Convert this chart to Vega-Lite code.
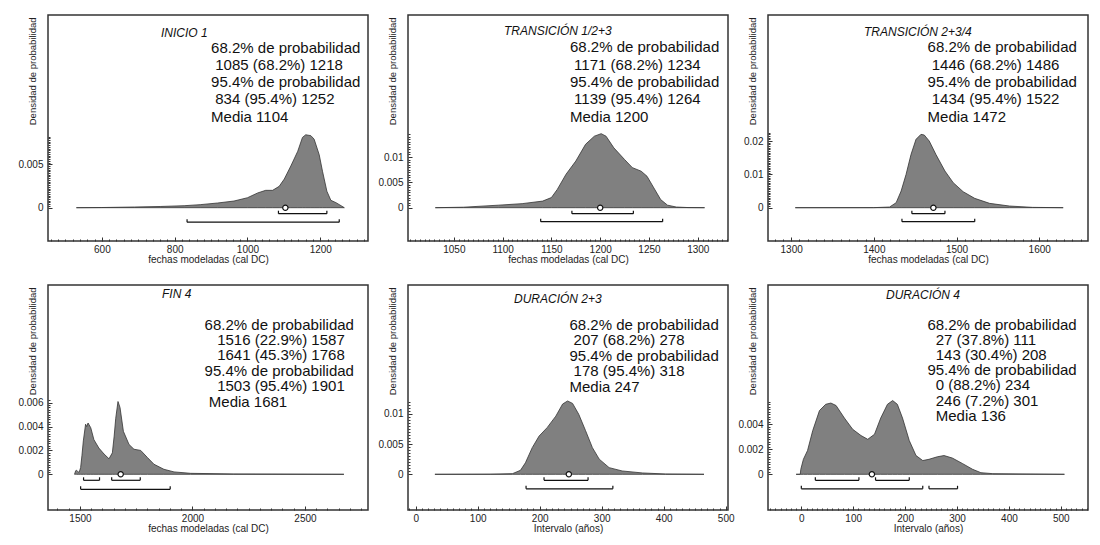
{
  "$schema": "https://vega.github.io/schema/vega-lite/v6.json",
  "padding": {"left": 17, "top": 9, "right": 5, "bottom": 5},
  "background": "white",
  "config": {
    "view": {"stroke": "#333", "strokeWidth": 1.5},
    "font": "Liberation Sans",
    "axis": {"grid": false, "domain": false, "labelFont": "Liberation Sans", "labelFontSize": 10, "labelColor": "#222", "titleFont": "Liberation Sans", "titleFontWeight": "normal", "titleColor": "#222", "tickColor": "#333", "tickWidth": 1, "labelOverlap": false, "labelFlush": false},
    "axisX": {"titleFontSize": 10, "labelPadding": 7, "titleY": 18.5, "titleBaseline": "middle", "format": "d"},
    "axisY": {"titleFontSize": 9.5, "labelPadding": 9, "titleX": -15.5, "titleY": 2, "titleAlign": "right", "titleAngle": 270, "titleBaseline": "middle", "format": "~g"},
    "title": {"font": "Liberation Sans", "fontStyle": "italic", "fontWeight": "normal", "fontSize": 12, "color": "#111", "anchor": "start", "frame": "group"}
  },
  "datasets": {
    "dens": [
      {"panel":"P1","x":530,"d":0},{"panel":"P1","x":600,"d":0.00002},{"panel":"P1","x":690,"d":0.00008},{"panel":"P1","x":760,"d":0.00014},{"panel":"P1","x":826,"d":0.00023},{"panel":"P1","x":870,"d":0.00035},{"panel":"P1","x":918,"d":0.00054},{"panel":"P1","x":963,"d":0.00077},{"panel":"P1","x":1000,"d":0.00115},{"panel":"P1","x":1028,"d":0.0017},{"panel":"P1","x":1050,"d":0.002},{"panel":"P1","x":1069,"d":0.002},{"panel":"P1","x":1087,"d":0.00246},{"panel":"P1","x":1101,"d":0.0033},{"panel":"P1","x":1119,"d":0.0048},{"panel":"P1","x":1138,"d":0.0065},{"panel":"P1","x":1151,"d":0.0081},{"panel":"P1","x":1160,"d":0.0084},{"panel":"P1","x":1174,"d":0.0083},{"panel":"P1","x":1183,"d":0.0079},{"panel":"P1","x":1197,"d":0.0061},{"panel":"P1","x":1206,"d":0.0042},{"panel":"P1","x":1218,"d":0.0019},{"panel":"P1","x":1229,"d":0.00085},{"panel":"P1","x":1243,"d":0.00058},{"panel":"P1","x":1257,"d":0.00023},{"panel":"P1","x":1266,"d":0},
      {"panel":"P2","x":1031,"d":0},{"panel":"P2","x":1060,"d":0.0001},{"panel":"P2","x":1096,"d":0.0005},{"panel":"P2","x":1120,"d":0.0008},{"panel":"P2","x":1141,"d":0.0013},{"panel":"P2","x":1150,"d":0.002},{"panel":"P2","x":1156,"d":0.0036},{"panel":"P2","x":1165,"d":0.0066},{"panel":"P2","x":1175,"d":0.0092},{"panel":"P2","x":1185,"d":0.0125},{"panel":"P2","x":1194,"d":0.0141},{"panel":"P2","x":1201,"d":0.0146},{"panel":"P2","x":1206,"d":0.0141},{"panel":"P2","x":1214,"d":0.0118},{"panel":"P2","x":1225,"d":0.0095},{"panel":"P2","x":1233,"d":0.0079},{"panel":"P2","x":1242,"d":0.0072},{"panel":"P2","x":1248,"d":0.0062},{"panel":"P2","x":1255,"d":0.0039},{"panel":"P2","x":1262,"d":0.0016},{"panel":"P2","x":1269,"d":0.0005},{"panel":"P2","x":1278,"d":0.00013},{"panel":"P2","x":1290,"d":0.00003},{"panel":"P2","x":1307,"d":0},
      {"panel":"P3","x":1305,"d":0},{"panel":"P3","x":1400,"d":0.00002},{"panel":"P3","x":1419,"d":0.0002},{"panel":"P3","x":1427,"d":0.0015},{"panel":"P3","x":1433,"d":0.005},{"panel":"P3","x":1439,"d":0.01},{"panel":"P3","x":1445,"d":0.016},{"panel":"P3","x":1451,"d":0.0205},{"panel":"P3","x":1457,"d":0.022},{"panel":"P3","x":1461,"d":0.0218},{"panel":"P3","x":1467,"d":0.02},{"panel":"P3","x":1475,"d":0.016},{"panel":"P3","x":1486,"d":0.011},{"panel":"P3","x":1496,"d":0.0075},{"panel":"P3","x":1508,"d":0.0048},{"panel":"P3","x":1522,"d":0.0028},{"panel":"P3","x":1540,"d":0.0013},{"panel":"P3","x":1564,"d":0.0005},{"panel":"P3","x":1592,"d":0.0001},{"panel":"P3","x":1629,"d":0},
      {"panel":"P4","x":1476,"d":0},{"panel":"P4","x":1481,"d":0.0003},{"panel":"P4","x":1485,"d":0.00034},{"panel":"P4","x":1492,"d":0.0002},{"panel":"P4","x":1496,"d":0.00014},{"panel":"P4","x":1503,"d":0.00056},{"panel":"P4","x":1509,"d":0.0016},{"panel":"P4","x":1515,"d":0.0028},{"panel":"P4","x":1525,"d":0.0042},{"panel":"P4","x":1530,"d":0.004},{"panel":"P4","x":1536,"d":0.0043},{"panel":"P4","x":1548,"d":0.0039},{"panel":"P4","x":1562,"d":0.0029},{"panel":"P4","x":1584,"d":0.0022},{"panel":"P4","x":1607,"d":0.0017},{"panel":"P4","x":1629,"d":0.0013},{"panel":"P4","x":1644,"d":0.0018},{"panel":"P4","x":1652,"d":0.0032},{"panel":"P4","x":1659,"d":0.0047},{"panel":"P4","x":1669,"d":0.0061},{"panel":"P4","x":1678,"d":0.0056},{"panel":"P4","x":1693,"d":0.0036},{"panel":"P4","x":1718,"d":0.0025},{"panel":"P4","x":1740,"d":0.0021},{"panel":"P4","x":1770,"d":0.002},{"panel":"P4","x":1800,"d":0.0014},{"panel":"P4","x":1829,"d":0.00084},{"panel":"P4","x":1873,"d":0.00042},{"panel":"P4","x":1918,"d":0.0002},{"panel":"P4","x":1992,"d":0.00008},{"panel":"P4","x":2184,"d":0.00003},{"panel":"P4","x":2673,"d":0},
      {"panel":"P5","x":31,"d":0},{"panel":"P5","x":120,"d":0.00002},{"panel":"P5","x":156,"d":0.0001},{"panel":"P5","x":169,"d":0.00066},{"panel":"P5","x":177,"d":0.0019},{"panel":"P5","x":188,"d":0.0044},{"panel":"P5","x":199,"d":0.0063},{"panel":"P5","x":212,"d":0.0077},{"panel":"P5","x":226,"d":0.0096},{"panel":"P5","x":237,"d":0.0116},{"panel":"P5","x":245,"d":0.0121},{"panel":"P5","x":253,"d":0.0117},{"panel":"P5","x":263,"d":0.0099},{"panel":"P5","x":274,"d":0.0072},{"panel":"P5","x":285,"d":0.0044},{"panel":"P5","x":296,"d":0.0025},{"panel":"P5","x":312,"d":0.0011},{"panel":"P5","x":333,"d":0.00055},{"panel":"P5","x":366,"d":0.00022},{"panel":"P5","x":403,"d":0.00005},{"panel":"P5","x":465,"d":0},
      {"panel":"P6","x":-10,"d":0},{"panel":"P6","x":-2,"d":0},{"panel":"P6","x":-1,"d":0.0004},{"panel":"P6","x":4,"d":0.0012},{"panel":"P6","x":12,"d":0.0019},{"panel":"P6","x":22,"d":0.0035},{"panel":"P6","x":35,"d":0.0051},{"panel":"P6","x":47,"d":0.0056},{"panel":"P6","x":57,"d":0.0057},{"panel":"P6","x":67,"d":0.0055},{"panel":"P6","x":83,"d":0.0045},{"panel":"P6","x":99,"d":0.0036},{"panel":"P6","x":115,"d":0.0031},{"panel":"P6","x":128,"d":0.0028},{"panel":"P6","x":141,"d":0.0032},{"panel":"P6","x":153,"d":0.0045},{"panel":"P6","x":166,"d":0.0056},{"panel":"P6","x":176,"d":0.0059},{"panel":"P6","x":185,"d":0.0056},{"panel":"P6","x":195,"d":0.0045},{"panel":"P6","x":208,"d":0.0027},{"panel":"P6","x":221,"d":0.0015},{"panel":"P6","x":234,"d":0.0011},{"panel":"P6","x":246,"d":0.0012},{"panel":"P6","x":262,"d":0.0014},{"panel":"P6","x":275,"d":0.0015},{"panel":"P6","x":291,"d":0.0013},{"panel":"P6","x":311,"d":0.00085},{"panel":"P6","x":330,"d":0.0004},{"panel":"P6","x":346,"d":0.00013},{"panel":"P6","x":369,"d":0.00005},{"panel":"P6","x":507,"d":0}
    ],
    "int": [
      {"panel":"P1","nivel":"68.2%","desde":1085,"hasta":1218},{"panel":"P1","nivel":"95.4%","desde":834,"hasta":1252},
      {"panel":"P2","nivel":"68.2%","desde":1171,"hasta":1234},{"panel":"P2","nivel":"95.4%","desde":1139,"hasta":1264},
      {"panel":"P3","nivel":"68.2%","desde":1446,"hasta":1486},{"panel":"P3","nivel":"95.4%","desde":1434,"hasta":1522},
      {"panel":"P4","nivel":"68.2%","desde":1516,"hasta":1587},{"panel":"P4","nivel":"68.2%","desde":1641,"hasta":1768},{"panel":"P4","nivel":"95.4%","desde":1503,"hasta":1901},
      {"panel":"P5","nivel":"68.2%","desde":207,"hasta":278},{"panel":"P5","nivel":"95.4%","desde":178,"hasta":318},
      {"panel":"P6","nivel":"68.2%","desde":27,"hasta":111},{"panel":"P6","nivel":"68.2%","desde":143,"hasta":208},{"panel":"P6","nivel":"95.4%","desde":0,"hasta":234},{"panel":"P6","nivel":"95.4%","desde":246,"hasta":301}
    ],
    "med": [
      {"panel":"P1","media":1104},{"panel":"P2","media":1200},{"panel":"P3","media":1472},{"panel":"P4","media":1681},{"panel":"P5","media":247},{"panel":"P6","media":136}
    ],
    "txt": [
      {"panel":"P1","texto":"68.2% de probabilidad\n\u200b\u00a01085 (68.2%) 1218\n95.4% de probabilidad\n\u200b\u00a0834 (95.4%) 1252\nMedia 1104"},
      {"panel":"P2","texto":"68.2% de probabilidad\n\u200b\u00a01171 (68.2%) 1234\n95.4% de probabilidad\n\u200b\u00a01139 (95.4%) 1264\nMedia 1200"},
      {"panel":"P3","texto":"68.2% de probabilidad\n\u200b\u00a01446 (68.2%) 1486\n95.4% de probabilidad\n\u200b\u00a01434 (95.4%) 1522\nMedia 1472"},
      {"panel":"P4","texto":"68.2% de probabilidad\n\u200b\u00a0\u00a0\u00a01516 (22.9%) 1587\n\u200b\u00a0\u00a0\u00a01641 (45.3%) 1768\n95.4% de probabilidad\n\u200b\u00a0\u00a0\u00a01503 (95.4%) 1901\n\u200b\u00a0Media 1681"},
      {"panel":"P5","texto":"68.2% de probabilidad\n\u200b\u00a0207 (68.2%) 278\n95.4% de probabilidad\n\u200b\u00a0178 (95.4%) 318\nMedia 247"},
      {"panel":"P6","texto":"68.2% de probabilidad\n\u200b\u00a0\u00a027 (37.8%) 111\n\u200b\u00a0\u00a0143 (30.4%) 208\n95.4% de probabilidad\n\u200b\u00a0\u00a00 (88.2%) 234\n\u200b\u00a0\u00a0246 (7.2%) 301\n\u200b\u00a0\u00a0Media 136"}
    ]
  },
  "concat": [
    {
      "width": 320, "height": 226,
      "title": {"text": "INICIO 1", "dx": 113, "offset": -29.5},
      "layer": [
        {"data": {"name": "dens"}, "transform": [{"filter": "datum.panel == 'P1'"}],
         "mark": {"type": "area", "fill": "#808080", "stroke": "#333", "strokeWidth": 0.8},
         "encoding": {
           "x": {"field": "x", "type": "quantitative", "scale": {"domain": [452, 1331], "nice": false, "zero": false},
                 "axis": {"title": "fechas modeladas (cal DC)", "tickCount": 44, "labelExpr": "datum.value % 200 == 0 ? datum.label : ''", "tickSize": {"condition": {"test": "datum.value % 200 == 0", "value": -4}, "value": -2}}},
           "y": {"field": "d", "type": "quantitative", "scale": {"domain": [-0.003836, 0.0222], "nice": false, "zero": false},
                 "axis": {"title": "Densidad de probabilidad", "tickCount": 130, "labelExpr": "(datum.value == 0 || datum.value == 0.005) ? datum.label : ''", "tickSize": {"condition": {"test": "datum.value == 0 || datum.value == 0.005", "value": -4}, "value": -2}, "tickOpacity": {"condition": {"test": "datum.value < -0.000000001 || datum.value > 0.00825", "value": 0}, "value": 1}}}
         }},
        {"data": {"name": "int"}, "transform": [{"filter": "datum.panel == 'P1' && datum.nivel == '68.2%'"}],
         "mark": {"type": "rule", "yOffset": 6, "color": "#111", "strokeWidth": 1.2},
         "encoding": {"x": {"field": "desde", "type": "quantitative"}, "x2": {"field": "hasta"}, "y": {"datum": 0}}},
        {"data": {"name": "int"}, "transform": [{"filter": "datum.panel == 'P1' && datum.nivel == '68.2%'"}, {"fold": ["desde", "hasta"], "as": ["extremo", "pos"]}],
         "mark": {"type": "rule", "yOffset": 6, "y2Offset": 3, "color": "#111", "strokeWidth": 1.2},
         "encoding": {"x": {"field": "pos", "type": "quantitative"}, "y": {"datum": 0}, "y2": {"datum": 0}}},
        {"data": {"name": "int"}, "transform": [{"filter": "datum.panel == 'P1' && datum.nivel == '95.4%'"}],
         "mark": {"type": "rule", "yOffset": 14.5, "color": "#111", "strokeWidth": 1.2},
         "encoding": {"x": {"field": "desde", "type": "quantitative"}, "x2": {"field": "hasta"}, "y": {"datum": 0}}},
        {"data": {"name": "int"}, "transform": [{"filter": "datum.panel == 'P1' && datum.nivel == '95.4%'"}, {"fold": ["desde", "hasta"], "as": ["extremo", "pos"]}],
         "mark": {"type": "rule", "yOffset": 14.5, "y2Offset": 11.5, "color": "#111", "strokeWidth": 1.2},
         "encoding": {"x": {"field": "pos", "type": "quantitative"}, "y": {"datum": 0}, "y2": {"datum": 0}}},
        {"data": {"name": "med"}, "transform": [{"filter": "datum.panel == 'P1'"}],
         "mark": {"type": "point", "shape": "circle", "filled": true, "fill": "white", "stroke": "#111", "strokeWidth": 1.2, "size": 28, "opacity": 1},
         "encoding": {"x": {"field": "media", "type": "quantitative"}, "y": {"datum": 0}}},
        {"data": {"name": "txt"}, "transform": [{"filter": "datum.panel == 'P1'"}],
         "mark": {"type": "text", "align": "left", "baseline": "top", "lineBreak": "\n", "lineHeight": 17.3, "fontSize": 15, "font": "Liberation Sans", "color": "#111"},
         "encoding": {"x": {"datum": 900}, "y": {"datum": 0.01926}, "text": {"field": "texto"}}}
      ]
    },
    {
      "width": 320, "height": 226,
      "title": {"text": "TRANSICIÓN 1/2+3", "dx": 96, "offset": -28},
      "layer": [
        {"data": {"name": "dens"}, "transform": [{"filter": "datum.panel == 'P2'"}],
         "mark": {"type": "area", "fill": "#808080", "stroke": "#333", "strokeWidth": 0.8},
         "encoding": {
           "x": {"field": "x", "type": "quantitative", "scale": {"domain": [1003, 1331], "nice": false, "zero": false},
                 "axis": {"title": "fechas modeladas (cal DC)", "tickCount": 66, "labelExpr": "datum.value % 50 == 0 ? datum.label : ''", "tickSize": {"condition": {"test": "datum.value % 50 == 0", "value": -4}, "value": -2}}},
           "y": {"field": "d", "type": "quantitative", "scale": {"domain": [-0.006568, 0.038008], "nice": false, "zero": false},
                 "axis": {"title": "Densidad de probabilidad", "tickCount": 90, "labelExpr": "(datum.value == 0 || datum.value == 0.005 || datum.value == 0.01) ? datum.label : ''", "tickSize": {"condition": {"test": "datum.value == 0 || datum.value == 0.005 || datum.value == 0.01", "value": -4}, "value": -2}, "tickOpacity": {"condition": {"test": "datum.value < -0.000000001 || datum.value > 0.01455", "value": 0}, "value": 1}}}
         }},
        {"data": {"name": "int"}, "transform": [{"filter": "datum.panel == 'P2' && datum.nivel == '68.2%'"}],
         "mark": {"type": "rule", "yOffset": 6, "color": "#111", "strokeWidth": 1.2},
         "encoding": {"x": {"field": "desde", "type": "quantitative"}, "x2": {"field": "hasta"}, "y": {"datum": 0}}},
        {"data": {"name": "int"}, "transform": [{"filter": "datum.panel == 'P2' && datum.nivel == '68.2%'"}, {"fold": ["desde", "hasta"], "as": ["extremo", "pos"]}],
         "mark": {"type": "rule", "yOffset": 6, "y2Offset": 3, "color": "#111", "strokeWidth": 1.2},
         "encoding": {"x": {"field": "pos", "type": "quantitative"}, "y": {"datum": 0}, "y2": {"datum": 0}}},
        {"data": {"name": "int"}, "transform": [{"filter": "datum.panel == 'P2' && datum.nivel == '95.4%'"}],
         "mark": {"type": "rule", "yOffset": 14, "color": "#111", "strokeWidth": 1.2},
         "encoding": {"x": {"field": "desde", "type": "quantitative"}, "x2": {"field": "hasta"}, "y": {"datum": 0}}},
        {"data": {"name": "int"}, "transform": [{"filter": "datum.panel == 'P2' && datum.nivel == '95.4%'"}, {"fold": ["desde", "hasta"], "as": ["extremo", "pos"]}],
         "mark": {"type": "rule", "yOffset": 14, "y2Offset": 11, "color": "#111", "strokeWidth": 1.2},
         "encoding": {"x": {"field": "pos", "type": "quantitative"}, "y": {"datum": 0}, "y2": {"datum": 0}}},
        {"data": {"name": "med"}, "transform": [{"filter": "datum.panel == 'P2'"}],
         "mark": {"type": "point", "shape": "circle", "filled": true, "fill": "white", "stroke": "#111", "strokeWidth": 1.2, "size": 28, "opacity": 1},
         "encoding": {"x": {"field": "media", "type": "quantitative"}, "y": {"datum": 0}}},
        {"data": {"name": "txt"}, "transform": [{"filter": "datum.panel == 'P2'"}],
         "mark": {"type": "text", "align": "left", "baseline": "top", "lineBreak": "\n", "lineHeight": 17.3, "fontSize": 15, "font": "Liberation Sans", "color": "#111"},
         "encoding": {"x": {"datum": 1169}, "y": {"datum": 0.03298}, "text": {"field": "texto"}}}
      ]
    },
    {
      "width": 320, "height": 226,
      "title": {"text": "TRANSICIÓN 2+3/4", "dx": 96, "offset": -28},
      "layer": [
        {"data": {"name": "dens"}, "transform": [{"filter": "datum.panel == 'P3'"}],
         "mark": {"type": "area", "fill": "#808080", "stroke": "#333", "strokeWidth": 0.8},
         "encoding": {
           "x": {"field": "x", "type": "quantitative", "scale": {"domain": [1272, 1659], "nice": false, "zero": false},
                 "axis": {"title": "fechas modeladas (cal DC)", "tickCount": 39, "labelExpr": "datum.value % 100 == 0 ? datum.label : ''", "tickSize": {"condition": {"test": "datum.value % 100 == 0", "value": -4}, "value": -2}}},
           "y": {"field": "d", "type": "quantitative", "scale": {"domain": [-0.009991, 0.057816], "nice": false, "zero": false},
                 "axis": {"title": "Densidad de probabilidad", "tickCount": 136, "labelExpr": "(datum.value == 0 || datum.value == 0.01 || datum.value == 0.02) ? datum.label : ''", "tickSize": {"condition": {"test": "datum.value == 0 || datum.value == 0.01 || datum.value == 0.02", "value": -4}, "value": -2}, "tickOpacity": {"condition": {"test": "datum.value < -0.000000001 || datum.value > 0.02255", "value": 0}, "value": 1}}}
         }},
        {"data": {"name": "int"}, "transform": [{"filter": "datum.panel == 'P3' && datum.nivel == '68.2%'"}],
         "mark": {"type": "rule", "yOffset": 6, "color": "#111", "strokeWidth": 1.2},
         "encoding": {"x": {"field": "desde", "type": "quantitative"}, "x2": {"field": "hasta"}, "y": {"datum": 0}}},
        {"data": {"name": "int"}, "transform": [{"filter": "datum.panel == 'P3' && datum.nivel == '68.2%'"}, {"fold": ["desde", "hasta"], "as": ["extremo", "pos"]}],
         "mark": {"type": "rule", "yOffset": 6, "y2Offset": 3, "color": "#111", "strokeWidth": 1.2},
         "encoding": {"x": {"field": "pos", "type": "quantitative"}, "y": {"datum": 0}, "y2": {"datum": 0}}},
        {"data": {"name": "int"}, "transform": [{"filter": "datum.panel == 'P3' && datum.nivel == '95.4%'"}],
         "mark": {"type": "rule", "yOffset": 14, "color": "#111", "strokeWidth": 1.2},
         "encoding": {"x": {"field": "desde", "type": "quantitative"}, "x2": {"field": "hasta"}, "y": {"datum": 0}}},
        {"data": {"name": "int"}, "transform": [{"filter": "datum.panel == 'P3' && datum.nivel == '95.4%'"}, {"fold": ["desde", "hasta"], "as": ["extremo", "pos"]}],
         "mark": {"type": "rule", "yOffset": 14, "y2Offset": 11, "color": "#111", "strokeWidth": 1.2},
         "encoding": {"x": {"field": "pos", "type": "quantitative"}, "y": {"datum": 0}, "y2": {"datum": 0}}},
        {"data": {"name": "med"}, "transform": [{"filter": "datum.panel == 'P3'"}],
         "mark": {"type": "point", "shape": "circle", "filled": true, "fill": "white", "stroke": "#111", "strokeWidth": 1.2, "size": 28, "opacity": 1},
         "encoding": {"x": {"field": "media", "type": "quantitative"}, "y": {"datum": 0}}},
        {"data": {"name": "txt"}, "transform": [{"filter": "datum.panel == 'P3'"}],
         "mark": {"type": "text", "align": "left", "baseline": "top", "lineBreak": "\n", "lineHeight": 17.3, "fontSize": 15, "font": "Liberation Sans", "color": "#111"},
         "encoding": {"x": {"datum": 1465}, "y": {"datum": 0.05017}, "text": {"field": "texto"}}}
      ]
    },
    {
      "width": 320, "height": 225,
      "title": {"text": "FIN 4", "dx": 114, "offset": -20.5},
      "layer": [
        {"data": {"name": "dens"}, "transform": [{"filter": "datum.panel == 'P4'"}],
         "mark": {"type": "area", "fill": "#808080", "stroke": "#333", "strokeWidth": 0.8},
         "encoding": {
           "x": {"field": "x", "type": "quantitative", "scale": {"domain": [1358, 2780], "nice": false, "zero": false},
                 "axis": {"title": "fechas modeladas (cal DC)", "tickCount": 28, "labelExpr": "datum.value % 500 == 0 ? datum.label : ''", "tickSize": {"condition": {"test": "datum.value % 500 == 0", "value": -4}, "value": -2}}},
           "y": {"field": "d", "type": "quantitative", "scale": {"domain": [-0.002992, 0.015864], "nice": false, "zero": false},
                 "axis": {"title": "Densidad de probabilidad", "tickCount": 94, "labelExpr": "(datum.value == 0 || datum.value == 0.002 || datum.value == 0.004 || datum.value == 0.006) ? datum.label : ''", "tickSize": {"condition": {"test": "datum.value == 0 || datum.value == 0.002 || datum.value == 0.004 || datum.value == 0.006", "value": -4}, "value": -2}, "tickOpacity": {"condition": {"test": "datum.value < -0.000000001 || datum.value > 0.00621", "value": 0}, "value": 1}}}
         }},
        {"data": {"name": "int"}, "transform": [{"filter": "datum.panel == 'P4' && datum.nivel == '68.2%'"}],
         "mark": {"type": "rule", "yOffset": 6, "color": "#111", "strokeWidth": 1.2},
         "encoding": {"x": {"field": "desde", "type": "quantitative"}, "x2": {"field": "hasta"}, "y": {"datum": 0}}},
        {"data": {"name": "int"}, "transform": [{"filter": "datum.panel == 'P4' && datum.nivel == '68.2%'"}, {"fold": ["desde", "hasta"], "as": ["extremo", "pos"]}],
         "mark": {"type": "rule", "yOffset": 6, "y2Offset": 3, "color": "#111", "strokeWidth": 1.2},
         "encoding": {"x": {"field": "pos", "type": "quantitative"}, "y": {"datum": 0}, "y2": {"datum": 0}}},
        {"data": {"name": "int"}, "transform": [{"filter": "datum.panel == 'P4' && datum.nivel == '95.4%'"}],
         "mark": {"type": "rule", "yOffset": 15, "color": "#111", "strokeWidth": 1.2},
         "encoding": {"x": {"field": "desde", "type": "quantitative"}, "x2": {"field": "hasta"}, "y": {"datum": 0}}},
        {"data": {"name": "int"}, "transform": [{"filter": "datum.panel == 'P4' && datum.nivel == '95.4%'"}, {"fold": ["desde", "hasta"], "as": ["extremo", "pos"]}],
         "mark": {"type": "rule", "yOffset": 15, "y2Offset": 12, "color": "#111", "strokeWidth": 1.2},
         "encoding": {"x": {"field": "pos", "type": "quantitative"}, "y": {"datum": 0}, "y2": {"datum": 0}}},
        {"data": {"name": "med"}, "transform": [{"filter": "datum.panel == 'P4'"}],
         "mark": {"type": "point", "shape": "circle", "filled": true, "fill": "white", "stroke": "#111", "strokeWidth": 1.2, "size": 28, "opacity": 1},
         "encoding": {"x": {"field": "media", "type": "quantitative"}, "y": {"datum": 0}}},
        {"data": {"name": "txt"}, "transform": [{"filter": "datum.panel == 'P4'"}],
         "mark": {"type": "text", "align": "left", "baseline": "top", "lineBreak": "\n", "lineHeight": 15.4, "fontSize": 15, "font": "Liberation Sans", "color": "#111"},
         "encoding": {"x": {"datum": 2054}, "y": {"datum": 0.01314}, "text": {"field": "texto"}}}
      ]
    },
    {
      "width": 320, "height": 225,
      "title": {"text": "DURACIÓN 2+3", "dx": 106, "offset": -25},
      "layer": [
        {"data": {"name": "dens"}, "transform": [{"filter": "datum.panel == 'P5'"}],
         "mark": {"type": "area", "fill": "#808080", "stroke": "#333", "strokeWidth": 0.8},
         "encoding": {
           "x": {"field": "x", "type": "quantitative", "scale": {"domain": [-12.4, 503.7], "nice": false, "zero": false},
                 "axis": {"title": "Intervalo (años)", "tickCount": 52, "labelExpr": "datum.value % 100 == 0 ? datum.label : ''", "tickSize": {"condition": {"test": "datum.value % 100 == 0", "value": -4}, "value": -2}}},
           "y": {"field": "d", "type": "quantitative", "scale": {"domain": [-0.005891, 0.031238], "nice": false, "zero": false},
                 "axis": {"title": "Densidad de probabilidad", "tickCount": 74, "labelExpr": "(datum.value == 0 || datum.value == 0.005 || datum.value == 0.01) ? datum.label : ''", "tickSize": {"condition": {"test": "datum.value == 0 || datum.value == 0.005 || datum.value == 0.01", "value": -4}, "value": -2}, "tickOpacity": {"condition": {"test": "datum.value < -0.000000001 || datum.value > 0.01205", "value": 0}, "value": 1}}}
         }},
        {"data": {"name": "int"}, "transform": [{"filter": "datum.panel == 'P5' && datum.nivel == '68.2%'"}],
         "mark": {"type": "rule", "yOffset": 6, "color": "#111", "strokeWidth": 1.2},
         "encoding": {"x": {"field": "desde", "type": "quantitative"}, "x2": {"field": "hasta"}, "y": {"datum": 0}}},
        {"data": {"name": "int"}, "transform": [{"filter": "datum.panel == 'P5' && datum.nivel == '68.2%'"}, {"fold": ["desde", "hasta"], "as": ["extremo", "pos"]}],
         "mark": {"type": "rule", "yOffset": 6, "y2Offset": 3, "color": "#111", "strokeWidth": 1.2},
         "encoding": {"x": {"field": "pos", "type": "quantitative"}, "y": {"datum": 0}, "y2": {"datum": 0}}},
        {"data": {"name": "int"}, "transform": [{"filter": "datum.panel == 'P5' && datum.nivel == '95.4%'"}],
         "mark": {"type": "rule", "yOffset": 14.5, "color": "#111", "strokeWidth": 1.2},
         "encoding": {"x": {"field": "desde", "type": "quantitative"}, "x2": {"field": "hasta"}, "y": {"datum": 0}}},
        {"data": {"name": "int"}, "transform": [{"filter": "datum.panel == 'P5' && datum.nivel == '95.4%'"}, {"fold": ["desde", "hasta"], "as": ["extremo", "pos"]}],
         "mark": {"type": "rule", "yOffset": 14.5, "y2Offset": 11.5, "color": "#111", "strokeWidth": 1.2},
         "encoding": {"x": {"field": "pos", "type": "quantitative"}, "y": {"datum": 0}, "y2": {"datum": 0}}},
        {"data": {"name": "med"}, "transform": [{"filter": "datum.panel == 'P5'"}],
         "mark": {"type": "point", "shape": "circle", "filled": true, "fill": "white", "stroke": "#111", "strokeWidth": 1.2, "size": 28, "opacity": 1},
         "encoding": {"x": {"field": "media", "type": "quantitative"}, "y": {"datum": 0}}},
        {"data": {"name": "txt"}, "transform": [{"filter": "datum.panel == 'P5'"}],
         "mark": {"type": "text", "align": "left", "baseline": "top", "lineBreak": "\n", "lineHeight": 15.5, "fontSize": 15, "font": "Liberation Sans", "color": "#111"},
         "encoding": {"x": {"datum": 248}, "y": {"datum": 0.02587}, "text": {"field": "texto"}}}
      ]
    },
    {
      "width": 320, "height": 225,
      "title": {"text": "DURACIÓN 4", "dx": 118, "offset": -20.5},
      "layer": [
        {"data": {"name": "dens"}, "transform": [{"filter": "datum.panel == 'P6'"}],
         "mark": {"type": "area", "fill": "#808080", "stroke": "#333", "strokeWidth": 0.8},
         "encoding": {
           "x": {"field": "x", "type": "quantitative", "scale": {"domain": [-64.2, 552.4], "nice": false, "zero": false},
                 "axis": {"title": "Intervalo (años)", "tickCount": 62, "labelExpr": "datum.value % 100 == 0 ? datum.label : ''", "tickSize": {"condition": {"test": "datum.value % 100 == 0", "value": -4}, "value": -2}}},
           "y": {"field": "d", "type": "quantitative", "scale": {"domain": [-0.002856, 0.015144], "nice": false, "zero": false},
                 "axis": {"title": "Densidad de probabilidad", "tickCount": 90, "labelExpr": "(datum.value == 0 || datum.value == 0.002 || datum.value == 0.004) ? datum.label : ''", "tickSize": {"condition": {"test": "datum.value == 0 || datum.value == 0.002 || datum.value == 0.004", "value": -4}, "value": -2}, "tickOpacity": {"condition": {"test": "datum.value < -0.000000001 || datum.value > 0.00585", "value": 0}, "value": 1}}}
         }},
        {"data": {"name": "int"}, "transform": [{"filter": "datum.panel == 'P6' && datum.nivel == '68.2%'"}],
         "mark": {"type": "rule", "yOffset": 6, "color": "#111", "strokeWidth": 1.2},
         "encoding": {"x": {"field": "desde", "type": "quantitative"}, "x2": {"field": "hasta"}, "y": {"datum": 0}}},
        {"data": {"name": "int"}, "transform": [{"filter": "datum.panel == 'P6' && datum.nivel == '68.2%'"}, {"fold": ["desde", "hasta"], "as": ["extremo", "pos"]}],
         "mark": {"type": "rule", "yOffset": 6, "y2Offset": 3, "color": "#111", "strokeWidth": 1.2},
         "encoding": {"x": {"field": "pos", "type": "quantitative"}, "y": {"datum": 0}, "y2": {"datum": 0}}},
        {"data": {"name": "int"}, "transform": [{"filter": "datum.panel == 'P6' && datum.nivel == '95.4%'"}],
         "mark": {"type": "rule", "yOffset": 14.5, "color": "#111", "strokeWidth": 1.2},
         "encoding": {"x": {"field": "desde", "type": "quantitative"}, "x2": {"field": "hasta"}, "y": {"datum": 0}}},
        {"data": {"name": "int"}, "transform": [{"filter": "datum.panel == 'P6' && datum.nivel == '95.4%'"}, {"fold": ["desde", "hasta"], "as": ["extremo", "pos"]}],
         "mark": {"type": "rule", "yOffset": 14.5, "y2Offset": 11.5, "color": "#111", "strokeWidth": 1.2},
         "encoding": {"x": {"field": "pos", "type": "quantitative"}, "y": {"datum": 0}, "y2": {"datum": 0}}},
        {"data": {"name": "med"}, "transform": [{"filter": "datum.panel == 'P6'"}],
         "mark": {"type": "point", "shape": "circle", "filled": true, "fill": "white", "stroke": "#111", "strokeWidth": 1.2, "size": 28, "opacity": 1},
         "encoding": {"x": {"field": "media", "type": "quantitative"}, "y": {"datum": 0}}},
        {"data": {"name": "txt"}, "transform": [{"filter": "datum.panel == 'P6'"}],
         "mark": {"type": "text", "align": "left", "baseline": "top", "lineBreak": "\n", "lineHeight": 15.2, "fontSize": 15, "font": "Liberation Sans", "color": "#111"},
         "encoding": {"x": {"datum": 243}, "y": {"datum": 0.01254}, "text": {"field": "texto"}}}
      ]
    }
  ],
  "columns": 3,
  "spacing": {"row": 44, "column": 40},
  "bounds": "flush"
}
